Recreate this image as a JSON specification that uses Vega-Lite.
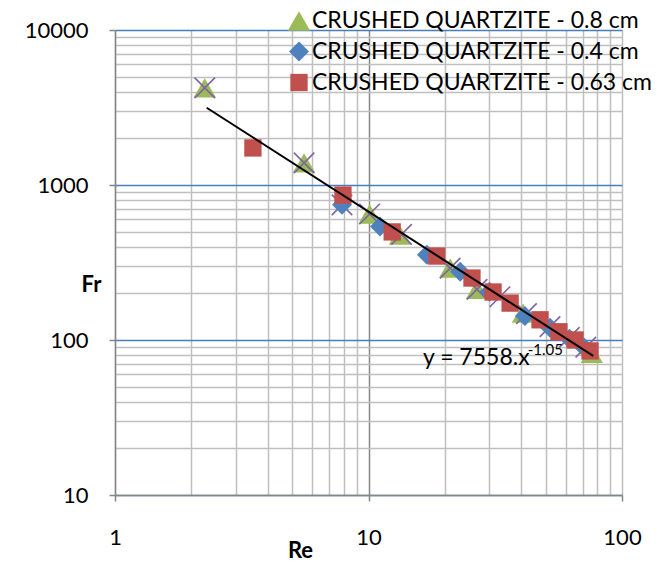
{
  "$schema": "https://vega.github.io/schema/vega-lite/v6.json",
  "autosize": {"type": "none"},
  "width": 507,
  "height": 465,
  "padding": {"left": 115, "top": 30, "right": 37, "bottom": 69},
  "background": "white",
  "config": {
    "view": {"stroke": null, "fill": "white"},
    "font": "Lato",
    "axis": {
      "labelFont": "Lato",
      "labelFontSize": 22,
      "labelColor": "black",
      "titleFont": "Lato",
      "titleFontSize": 22,
      "titleFontWeight": "bold",
      "titleColor": "black",
      "domainColor": "#868686",
      "domainWidth": 1.5,
      "tickColor": "#868686",
      "tickWidth": 1.5,
      "tickSize": 6,
      "gridWidth": 1.5
    }
  },
  "datasets": {
    "pts": [
      {"series": "CRUSHED QUARTZITE - 0.8 cm", "Re": 2.26, "Fr": 4230},
      {"series": "CRUSHED QUARTZITE - 0.8 cm", "Re": 5.57, "Fr": 1390},
      {"series": "CRUSHED QUARTZITE - 0.8 cm", "Re": 10.1, "Fr": 650},
      {"series": "CRUSHED QUARTZITE - 0.8 cm", "Re": 13.3, "Fr": 475},
      {"series": "CRUSHED QUARTZITE - 0.8 cm", "Re": 21.0, "Fr": 291},
      {"series": "CRUSHED QUARTZITE - 0.8 cm", "Re": 26.8, "Fr": 212},
      {"series": "CRUSHED QUARTZITE - 0.8 cm", "Re": 40.7, "Fr": 149},
      {"series": "CRUSHED QUARTZITE - 0.8 cm", "Re": 76.0, "Fr": 82},
      {"series": "X", "Re": 2.26, "Fr": 4230},
      {"series": "X", "Re": 5.57, "Fr": 1390},
      {"series": "X", "Re": 7.86, "Fr": 745},
      {"series": "X", "Re": 10.1, "Fr": 650},
      {"series": "X", "Re": 13.5, "Fr": 480},
      {"series": "X", "Re": 21.0, "Fr": 291},
      {"series": "X", "Re": 26.8, "Fr": 212},
      {"series": "X", "Re": 33.0, "Fr": 190},
      {"series": "X", "Re": 42.0, "Fr": 148},
      {"series": "X", "Re": 52.0, "Fr": 122},
      {"series": "X", "Re": 62.0, "Fr": 104},
      {"series": "X", "Re": 72.0, "Fr": 90},
      {"series": "CRUSHED QUARTZITE - 0.4 cm", "Re": 7.86, "Fr": 745},
      {"series": "CRUSHED QUARTZITE - 0.4 cm", "Re": 11.1, "Fr": 540},
      {"series": "CRUSHED QUARTZITE - 0.4 cm", "Re": 17.0, "Fr": 355},
      {"series": "CRUSHED QUARTZITE - 0.4 cm", "Re": 23.0, "Fr": 276},
      {"series": "CRUSHED QUARTZITE - 0.4 cm", "Re": 30.0, "Fr": 205},
      {"series": "CRUSHED QUARTZITE - 0.4 cm", "Re": 41.4, "Fr": 143},
      {"series": "CRUSHED QUARTZITE - 0.4 cm", "Re": 52.0, "Fr": 120},
      {"series": "CRUSHED QUARTZITE - 0.4 cm", "Re": 62.0, "Fr": 102},
      {"series": "CRUSHED QUARTZITE - 0.4 cm", "Re": 71.0, "Fr": 89},
      {"series": "CRUSHED QUARTZITE - 0.63 cm", "Re": 3.50, "Fr": 1734},
      {"series": "CRUSHED QUARTZITE - 0.63 cm", "Re": 7.93, "Fr": 861},
      {"series": "CRUSHED QUARTZITE - 0.63 cm", "Re": 12.4, "Fr": 498},
      {"series": "CRUSHED QUARTZITE - 0.63 cm", "Re": 18.6, "Fr": 348},
      {"series": "CRUSHED QUARTZITE - 0.63 cm", "Re": 25.6, "Fr": 251},
      {"series": "CRUSHED QUARTZITE - 0.63 cm", "Re": 31.0, "Fr": 204},
      {"series": "CRUSHED QUARTZITE - 0.63 cm", "Re": 36.2, "Fr": 173},
      {"series": "CRUSHED QUARTZITE - 0.63 cm", "Re": 47.5, "Fr": 135},
      {"series": "CRUSHED QUARTZITE - 0.63 cm", "Re": 56.4, "Fr": 113},
      {"series": "CRUSHED QUARTZITE - 0.63 cm", "Re": 65.3, "Fr": 100},
      {"series": "CRUSHED QUARTZITE - 0.63 cm", "Re": 74.8, "Fr": 85}
    ],
    "trend": [
      {"Re": 2.3, "Fr": 3152},
      {"Re": 77, "Fr": 79}
    ],
    "labels": [
      {"Re": 16.4, "Fr": 69, "txt": "y = 7558.x", "size": "big"},
      {"Re": 42.5, "Fr": 80, "txt": "-1.05", "size": "small"}
    ]
  },
  "layer": [
    {
      "data": {"name": "pts"},
      "transform": [{"filter": "datum.series == 'CRUSHED QUARTZITE - 0.8 cm'"}],
      "mark": {"type": "point", "filled": true, "opacity": 1},
      "encoding": {
        "x": {
          "field": "Re", "type": "quantitative",
          "scale": {"type": "log", "domain": [1, 100], "nice": false},
          "axis": {
            "title": "Re",
            "format": "d",
            "values": [1,2,3,4,5,6,7,8,9,10,20,30,40,50,60,70,80,90,100],
            "labelExpr": "indexof([1,10,100], datum.value) >= 0 ? datum.label : ''",
            "labelPadding": 26,
            "labelFlush": false,
            "tickOpacity": {"condition": {"test": "indexof([1,10,100], datum.value) >= 0", "value": 1}, "value": 0},
            "gridColor": {"condition": {"test": "datum.value == 10", "value": "#868686"}, "value": "#BFBFBF"},
            "titleX": 185,
            "titleY": 62,
            "titleAlign": "center",
            "titleBaseline": "alphabetic",
            "titleAnchor": null
          }
        },
        "y": {
          "field": "Fr", "type": "quantitative",
          "scale": {"type": "log", "domain": [10, 10000], "nice": false},
          "axis": {
            "title": "Fr",
            "format": "d",
            "values": [10,20,30,40,50,60,70,80,90,100,200,300,400,500,600,700,800,900,1000,2000,3000,4000,5000,6000,7000,8000,9000,10000],
            "labelExpr": "indexof([10,100,1000,10000], datum.value) >= 0 ? datum.label : ''",
            "labelPadding": 21,
            "labelFlush": false,
            "tickOpacity": {"condition": {"test": "indexof([10,100,1000,10000], datum.value) >= 0", "value": 1}, "value": 0},
            "gridColor": {"condition": {"test": "indexof([10,100,1000,10000], datum.value) >= 0", "value": "#4A7EBB"}, "value": "#BFBFBF"},
            "titleAngle": 0,
            "titleX": -24,
            "titleY": 261,
            "titleAlign": "center",
            "titleBaseline": "alphabetic",
            "titleAnchor": null
          }
        },
        "color": {
          "field": "series", "type": "nominal",
          "scale": {
            "domain": ["CRUSHED QUARTZITE - 0.8 cm", "CRUSHED QUARTZITE - 0.4 cm", "CRUSHED QUARTZITE - 0.63 cm"],
            "range": ["#9BBB59", "#4F81BD", "#C0504D"]
          },
          "legend": {
            "title": null,
            "orient": "none",
            "legendX": 172,
            "legendY": -21,
            "labelFont": "Lato",
            "labelFontSize": 23,
            "labelColor": "black",
            "labelLimit": 500,
            "labelOffset": 1,
            "rowPadding": 7,
            "padding": 0
          }
        },
        "shape": {
          "field": "series", "type": "nominal",
          "scale": {
            "domain": ["CRUSHED QUARTZITE - 0.8 cm", "CRUSHED QUARTZITE - 0.4 cm", "CRUSHED QUARTZITE - 0.63 cm"],
            "range": ["triangle-up", "diamond", "square"]
          }
        },
        "size": {
          "field": "series", "type": "nominal",
          "scale": {
            "domain": ["CRUSHED QUARTZITE - 0.8 cm", "CRUSHED QUARTZITE - 0.4 cm", "CRUSHED QUARTZITE - 0.63 cm"],
            "range": [500, 300, 480]
          }
        }
      }
    },
    {
      "data": {"name": "pts"},
      "transform": [{"filter": "datum.series == 'X'"}],
      "mark": {"type": "point", "shape": "M-1,-1L1,1M-1,1L1,-1", "filled": false, "stroke": "#8064A2", "strokeWidth": 1.6, "size": 420, "opacity": 1},
      "encoding": {
        "x": {"field": "Re", "type": "quantitative"},
        "y": {"field": "Fr", "type": "quantitative"}
      }
    },
    {
      "data": {"name": "pts"},
      "transform": [{"filter": "datum.series == 'CRUSHED QUARTZITE - 0.4 cm' || datum.series == 'CRUSHED QUARTZITE - 0.63 cm'"}],
      "mark": {"type": "point", "filled": true, "opacity": 1},
      "encoding": {
        "x": {"field": "Re", "type": "quantitative"},
        "y": {"field": "Fr", "type": "quantitative"},
        "color": {"field": "series", "type": "nominal"},
        "shape": {"field": "series", "type": "nominal"},
        "size": {"field": "series", "type": "nominal"}
      }
    },
    {
      "data": {"name": "trend"},
      "mark": {"type": "line", "color": "black", "strokeWidth": 2},
      "encoding": {
        "x": {"field": "Re", "type": "quantitative"},
        "y": {"field": "Fr", "type": "quantitative"}
      }
    },
    {
      "data": {"name": "labels"},
      "transform": [{"filter": "datum.size == 'big'"}],
      "mark": {"type": "text", "align": "left", "baseline": "alphabetic", "font": "Lato", "fontSize": 23, "color": "black"},
      "encoding": {
        "x": {"field": "Re", "type": "quantitative"},
        "y": {"field": "Fr", "type": "quantitative"},
        "text": {"field": "txt"}
      }
    },
    {
      "data": {"name": "labels"},
      "transform": [{"filter": "datum.size == 'small'"}],
      "mark": {"type": "text", "align": "left", "baseline": "alphabetic", "font": "Lato", "fontSize": 15, "color": "black"},
      "encoding": {
        "x": {"field": "Re", "type": "quantitative"},
        "y": {"field": "Fr", "type": "quantitative"},
        "text": {"field": "txt"}
      }
    }
  ]
}
